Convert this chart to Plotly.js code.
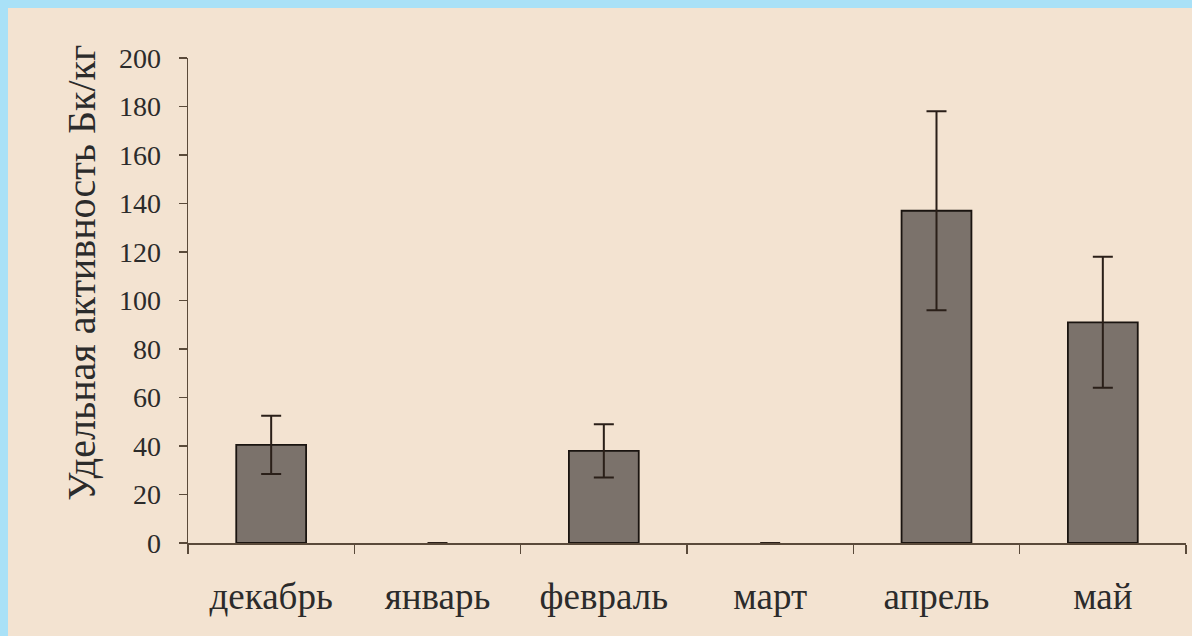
<!DOCTYPE html>
<html>
<head>
<meta charset="utf-8">
<script src="https://cdn.plot.ly/plotly-3.0.1.min.js"></script>
<style>
html,body{margin:0;padding:0;background:#a9e1f7;width:1192px;height:636px;overflow:hidden;}
#chart{position:absolute;left:8px;top:8px;width:1184px;height:628px;}
</style>
</head>
<body>
<div id="chart"></div>
<script>
const months = ["декабрь","январь","февраль","март","апрель","май"];
const activity = [40.5, 0, 38, 0, 137, 91];
const errors = [12, 0, 11, 0, 41, 27];
const yTitle = "Удельная активность Бк/кг";

const trace = {
  type: "bar",
  x: months,
  y: activity,
  width: 0.42,
  marker: {color: "#7b726b", line: {color: "#1a1410", width: activity.map(v => v > 0 ? 1.8 : 0)}},
  error_y: {type: "data", array: errors, visible: true, color: "#2a1f18", thickness: 2, width: 10},
  hoverinfo: "x+y"
};

const layout = {
  width: 1184, height: 628,
  paper_bgcolor: "#f3e3d1",
  plot_bgcolor: "#f3e3d1",
  margin: {l: 180, r: 6, t: 50, b: 93},
  showlegend: false,
  font: {family: "Liberation Serif, serif", color: "#2b2b2b"},
  xaxis: {
    type: "category",
    range: [-0.5, 5.5],
    showline: true, linecolor: "#5a4a3a", linewidth: 1.5,
    ticks: "outside", tickson: "boundaries", ticklen: 9, tickwidth: 1.5, tickcolor: "#5a4a3a",
    showgrid: false, zeroline: false,
    tickfont: {size: 37, family: "Liberation Serif, serif", color: "#2b2b2b"},
    ticklabelstandoff: 20
  },
  yaxis: {
    range: [0, 200],
    tickvals: [0,20,40,60,80,100,120,140,160,180,200],
    showline: true, linecolor: "#5a4a3a", linewidth: 1.5,
    ticks: "outside", ticklen: 8, tickwidth: 1.5, tickcolor: "#5a4a3a",
    showgrid: false, zeroline: false,
    tickfont: {size: 28, family: "Liberation Serif, serif", color: "#2b2b2b"},
    ticklabelstandoff: 12
  },
  annotations: [{
    text: yTitle,
    xref: "paper", yref: "paper",
    x: 0, y: 0.557, xanchor: "center", yanchor: "middle",
    xshift: -106,
    textangle: -90, showarrow: false,
    font: {size: 40, family: "Liberation Serif, serif", color: "#2b2b2b"}
  }]
};

Plotly.newPlot("chart", [trace], layout, {displayModeBar: false, staticPlot: true});
</script>
</body>
</html>
